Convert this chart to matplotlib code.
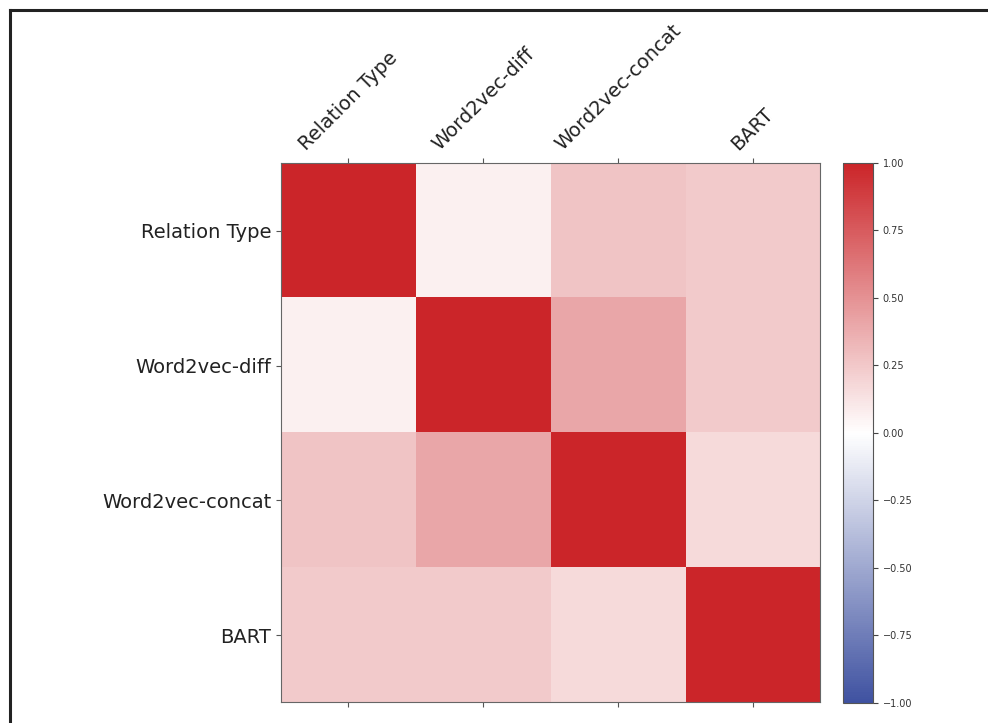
import matplotlib
matplotlib.use('Agg')
import matplotlib.pyplot as plt
from matplotlib.colors import LinearSegmentedColormap
from matplotlib.lines import Line2D
import numpy as np

# correlation between the four representations
labels = ['Relation Type', 'Word2vec-diff', 'Word2vec-concat', 'BART']
row_rt = [1.00, 0.07, 0.27, 0.24]
row_diff = [0.07, 1.00, 0.40, 0.24]
row_concat = [0.27, 0.40, 1.00, 0.17]
row_bart = [0.24, 0.24, 0.17, 1.00]
cbar_ticks = [-1.0, -0.75, -0.5, -0.25, 0.0, 0.25, 0.5, 0.75, 1.0]

corr = np.array([row_rt, row_diff, row_concat, row_bart])

cmap = LinearSegmentedColormap.from_list(
    name='corr_cmap', colors=['#3f52a1', '#ffffff', '#cb2529'], N=256
)

fig = plt.figure(figsize=(9.88, 7.23), dpi=100)
ax = fig.add_axes([0.2844, 0.0277, 0.5456, 0.7469])
cax = fig.add_axes([0.8533, 0.0277, 0.0304, 0.7469])

im = ax.matshow(corr, cmap=cmap, vmin=-1, vmax=1)
ax.set_xticks(range(len(labels)))
ax.set_yticks(range(len(labels)))
ax.set_xticklabels(labels, rotation=45, fontsize=14, color='#222222')
ax.set_yticklabels(labels, fontsize=14, color='#222222')
ax.tick_params(axis='x', top=True, bottom=True, labeltop=True, labelbottom=False,
               color='#555555')
ax.tick_params(axis='y', color='#555555')
for sp in ax.spines.values():
    sp.set_edgecolor('#666666')

cb = fig.colorbar(im, cax=cax, ticks=cbar_ticks)
cb.ax.tick_params(labelsize=7, color='#444444', labelcolor='#333333')
cb.ax.set_yticklabels([f'{t:.2f}'.replace('-', '\u2212') for t in cbar_ticks])
cb.outline.set_edgecolor('#555555')

# frame around the figure (top and left edges only are in view)
fig.add_artist(Line2D([0.0101, 1.0], [0.9862, 0.9862], color='#222222', lw=2.2,
                      transform=fig.transFigure))
fig.add_artist(Line2D([0.0101, 0.0101], [0.0, 0.9862], color='#222222', lw=2.2,
                      transform=fig.transFigure))

fig.savefig('out.png', dpi=100)
